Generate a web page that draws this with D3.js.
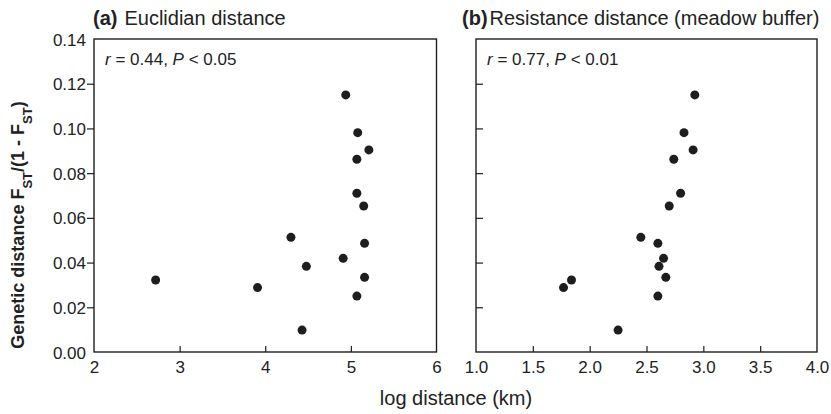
<!DOCTYPE html>
<html>
<head>
<meta charset="utf-8">
<script src="https://cdn.jsdelivr.net/npm/d3@7"></script>
<style>
  body { margin: 0; background: #fff; }
  svg text { font-family: "Liberation Sans", Arial, sans-serif; fill: #222; }
</style>
</head>
<body>
<svg width="831" height="414"></svg>
<script>
// genetic distance Fst/(1-Fst), same pairs in both panels
const geneticDist = [0.1150, 0.0981, 0.0904, 0.0862, 0.0710, 0.0653, 0.0513, 0.0486,
                     0.0419, 0.0383, 0.0322, 0.0334, 0.0288, 0.0250, 0.0098];
// (a) log euclidian distance
const euclidDist = [4.94, 5.08, 5.21, 5.07, 5.07, 5.15, 4.30, 5.16,
                    4.91, 4.48, 2.72, 5.16, 3.91, 5.07, 4.43];
// (b) log resistance distance (meadow buffer)
const resistDist = [2.925, 2.83, 2.91, 2.74, 2.80, 2.70, 2.45, 2.60,
                    2.65, 2.61, 1.84, 2.67, 1.77, 2.60, 2.25];

const yTicks = [0, 0.02, 0.04, 0.06, 0.08, 0.10, 0.12, 0.14];
const xTicksA = [2, 3, 4, 5, 6];
const xTicksB = [1.0, 1.5, 2.0, 2.5, 3.0, 3.5, 4.0];

const svg = d3.select('svg');
const plotTop = 39, plotBottom = 352;
const ink = '#1e1e1e';

const y = d3.scaleLinear().domain([0, 0.14]).range([plotBottom, plotTop]);

const panels = [
    {key: 'a', label: '(a)', title: 'Euclidian distance', xs: euclidDist, domain: [2, 6],
     ticks: xTicksA, fmt: d3.format('d'), left: 94, right: 436.5, yOut: true,
     stat: ['0.44', '0.05'], titleX: 93},
    {key: 'b', label: '(b)', title: 'Resistance distance (meadow buffer)', xs: resistDist, domain: [1, 4],
     ticks: xTicksB, fmt: d3.format('.1f'), left: 476, right: 817, yOut: false,
     stat: ['0.77', '0.01'], titleX: 462}
];

panels.forEach(p => {
    const x = d3.scaleLinear().domain(p.domain).range([p.left, p.right]);
    const g = svg.append('g');

    // frame
    g.append('rect')
        .attr('x', p.left).attr('y', plotTop)
        .attr('width', p.right - p.left).attr('height', plotBottom - plotTop)
        .attr('fill', 'none').attr('stroke', ink).attr('stroke-width', 1.4);

    // x axis, ticks inward
    const xa = g.append('g').attr('transform', `translate(0,${plotBottom})`)
        .call(d3.axisTop(x).tickValues(p.ticks).tickFormat(p.fmt).tickSize(6).tickSizeOuter(0));
    xa.select('.domain').remove();
    xa.selectAll('line').attr('stroke', ink).attr('stroke-width', 1.2);
    xa.selectAll('text').attr('y', 21).attr('dy', 0).style('font-size', '17px');
    xa.selectAll('.tick').filter(d => d === p.ticks[0] || d === p.ticks[p.ticks.length - 1])
        .select('line').remove();

    // y axis
    const ya = g.append('g').attr('transform', `translate(${p.left},0)`)
        .call(d3.axisLeft(y).tickValues(yTicks).tickFormat(d3.format('.2f'))
              .tickSize(p.yOut ? 7 : -7).tickSizeOuter(0).tickPadding(1));
    ya.select('.domain').remove();
    ya.selectAll('line').attr('stroke', ink).attr('stroke-width', 1.2);
    ya.selectAll('.tick').filter(d => d === 0 || d === 0.14).select('line').remove();
    if (p.yOut) {
        ya.selectAll('text').style('font-size', '17px').attr('dy', '0.36em');
    } else {
        ya.selectAll('text').remove();
    }

    // points
    g.selectAll('circle')
        .data(p.xs.map((v, i) => ({x: v, y: geneticDist[i]})))
        .enter()
        .append('circle')
        .attr('cx', d => x(d.x))
        .attr('cy', d => y(d.y))
        .attr('r', 4.5)
        .attr('fill', ink);

    // panel title
    const t = svg.append('text').attr('x', p.titleX).attr('y', 25).style('font-size', '20px');
    t.append('tspan').attr('font-weight', 'bold').text(p.label);
    t.append('tspan').attr('dx', p.key === 'a' ? 7 : 2).text(p.title);

    // stat annotation
    const s = svg.append('text').attr('x', p.left + 11).attr('y', 65).style('font-size', '17px');
    s.append('tspan').attr('font-style', 'italic').text('r');
    s.append('tspan').text(` = ${p.stat[0]}, `);
    s.append('tspan').attr('font-style', 'italic').text('P');
    s.append('tspan').text(` < ${p.stat[1]}`);
});

// shared axis titles
svg.append('text')
    .attr('x', 456).attr('y', 405)
    .attr('text-anchor', 'middle')
    .style('font-size', '20px')
    .text('log distance (km)');

const yl = svg.append('text')
    .attr('transform', 'translate(24,225) rotate(-90)')
    .attr('text-anchor', 'middle')
    .attr('font-weight', 'bold')
    .style('font-size', '18px');
yl.append('tspan').text('Genetic distance F');
yl.append('tspan').attr('baseline-shift', 'sub').style('font-size', '13px').text('ST');
yl.append('tspan').text('/(1 - F');
yl.append('tspan').attr('baseline-shift', 'sub').style('font-size', '13px').text('ST');
yl.append('tspan').text(')');
</script>
</body>
</html>
